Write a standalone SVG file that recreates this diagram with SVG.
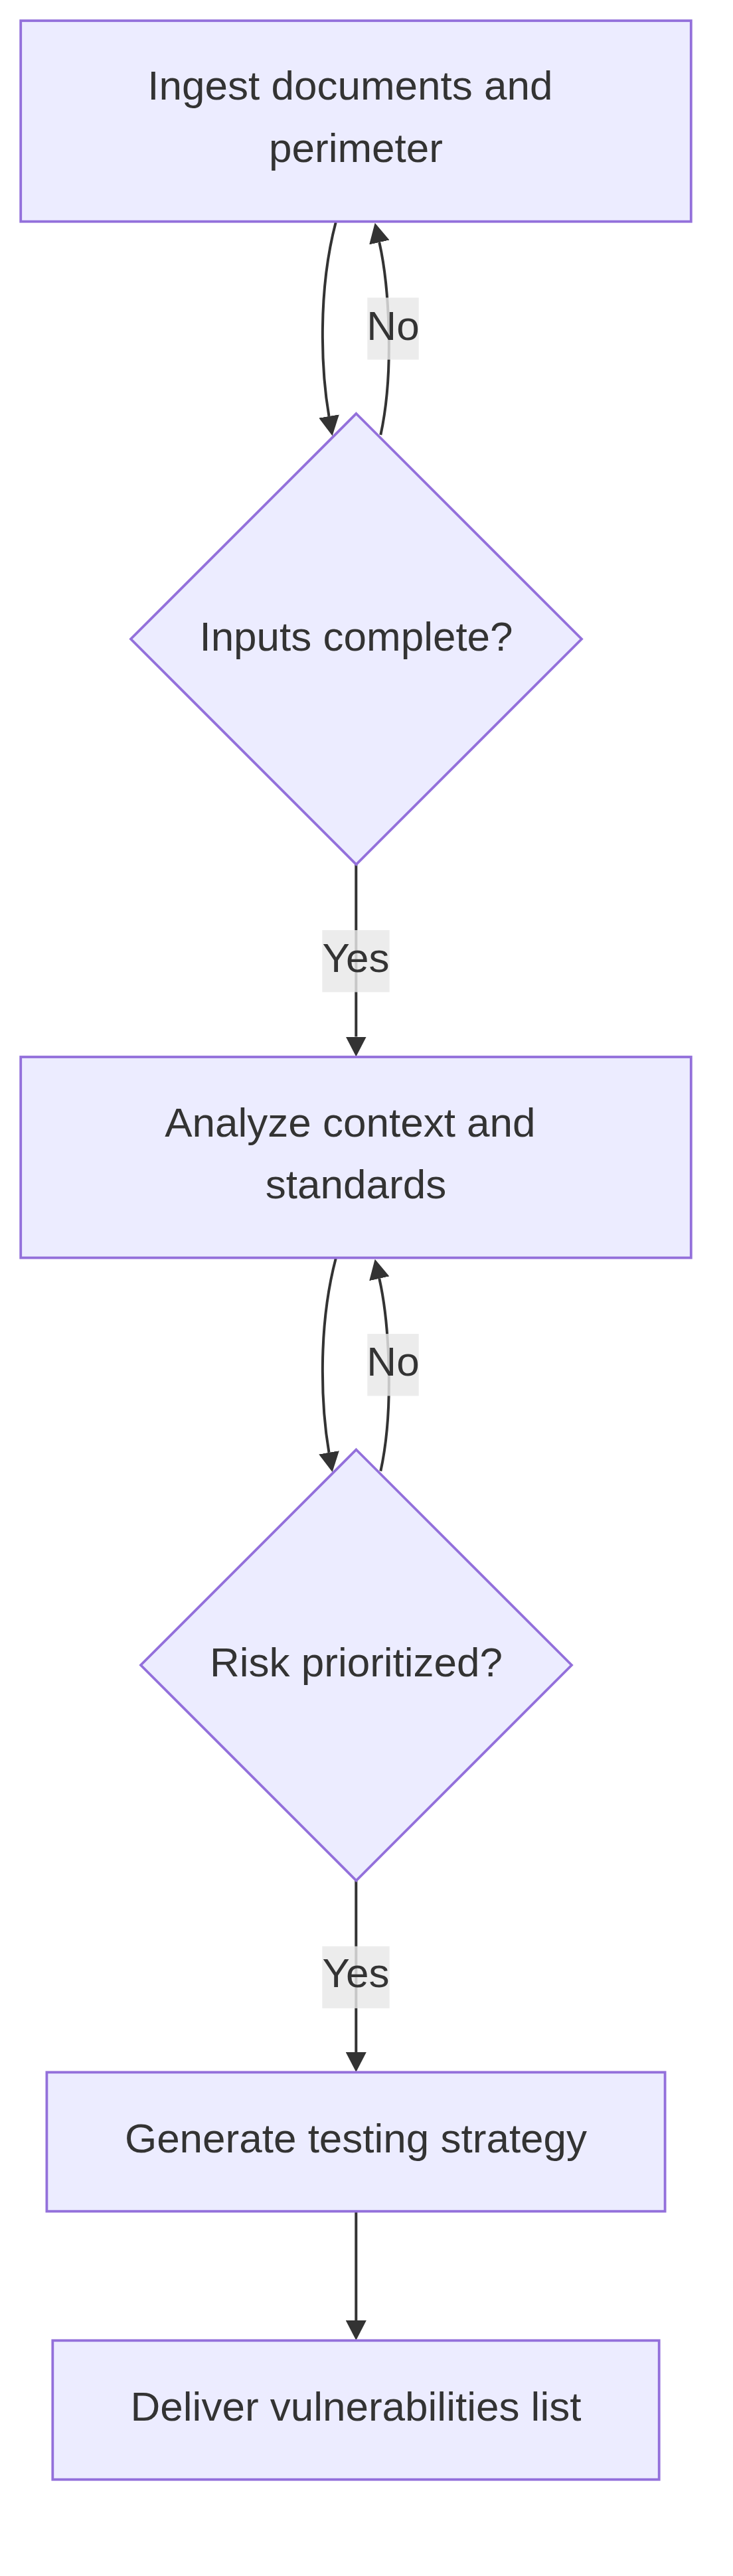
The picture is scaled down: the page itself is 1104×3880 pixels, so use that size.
<svg xmlns="http://www.w3.org/2000/svg" width="1104" height="3880" viewBox="0 0 1104 3880">
<style>
.node rect, .node polygon { fill: #ECECFF; stroke: #9370DB; stroke-width: 3.8; }
.ntxt { font-family: "Liberation Sans", Arial, sans-serif; font-size: 62px; fill: #333333; text-anchor: middle; }
.edge { fill: none; stroke: #333333; stroke-width: 4; }
.lbg { fill: #e8e8e8; fill-opacity: 0.82; }
</style>
<defs>
<marker id="arrow" viewBox="0 0 10 10" markerUnits="userSpaceOnUse" markerWidth="30" markerHeight="31" refX="0" refY="5" orient="auto" preserveAspectRatio="none">
<path d="M0,0 L10,5 L0,10 z" fill="#333333"/>
</marker>
</defs>
<rect x="0" y="0" width="1104" height="3880" fill="#ffffff"/>
<g id="connectors">
<path class="edge" d="M505.7,335 C478,440 484,560 495.5,627" marker-end="url(#arrow)"/>
<path class="edge" d="M573.3,655 C594,560 586,430 571.3,365" marker-end="url(#arrow)"/>
<path class="edge" d="M536.3,1302 L536.3,1561.5" marker-end="url(#arrow)"/>
<path class="edge" d="M505.7,1895.8 C478,2000.8 484,2120.8 495.5,2187.8" marker-end="url(#arrow)"/>
<path class="edge" d="M573.3,2215.8 C594,2120.8 586,1990.8 571.3,1925.8" marker-end="url(#arrow)"/>
<path class="edge" d="M536.3,2832.5 L536.3,3091" marker-end="url(#arrow)"/>
<path class="edge" d="M536.3,3330.7 L536.3,3495" marker-end="url(#arrow)"/>
<g id="label-no-1"><rect class="lbg" x="553.3" y="448.3" width="77.4" height="93.4"/><text class="ntxt" x="592" y="511.5">No</text></g>
<g id="label-yes-1"><rect class="lbg" x="485.3" y="1401" width="101.4" height="93.4"/><text class="ntxt" x="536" y="1463.5">Yes</text></g>
<g id="label-no-2"><rect class="lbg" x="553.3" y="2009.1" width="77.4" height="93.4"/><text class="ntxt" x="592" y="2072.3">No</text></g>
<g id="label-yes-2"><rect class="lbg" x="485.3" y="2931.5" width="101.4" height="93.4"/><text class="ntxt" x="536" y="2993">Yes</text></g>
</g>
<g id="node-ingest" class="node">
<rect x="31.2" y="31.2" width="1009.6" height="302.5"/>
<text class="ntxt" x="527.4" y="150"><tspan x="527.4">Ingest documents and</tspan><tspan x="536" y="243.5">perimeter</tspan></text>
</g>
<g id="node-inputs" class="node">
<polygon points="536.5,623 876,962.5 536.5,1302 197,962.5"/>
<text class="ntxt" x="536.5" y="979.5">Inputs complete?</text>
</g>
<g id="node-analyze" class="node">
<rect x="31.2" y="1592" width="1009.6" height="302.5"/>
<text class="ntxt" x="527.4" y="1711.5"><tspan x="527.4">Analyze context and</tspan><tspan x="536" y="1804.5">standards</tspan></text>
</g>
<g id="node-risk" class="node">
<polygon points="536.5,2183.5 861,2508 536.5,2832.5 212,2508" />
<text class="ntxt" x="536.5" y="2525">Risk prioritized?</text>
</g>
<g id="node-strategy" class="node">
<rect x="70.4" y="3121.3" width="931.2" height="209.4"/>
<text class="ntxt" x="536" y="3242">Generate testing strategy</text>
</g>
<g id="node-deliver" class="node">
<rect x="79.3" y="3525.3" width="913.4" height="209.4"/>
<text class="ntxt" x="536" y="3646">Deliver vulnerabilities list</text>
</g>
</svg>
